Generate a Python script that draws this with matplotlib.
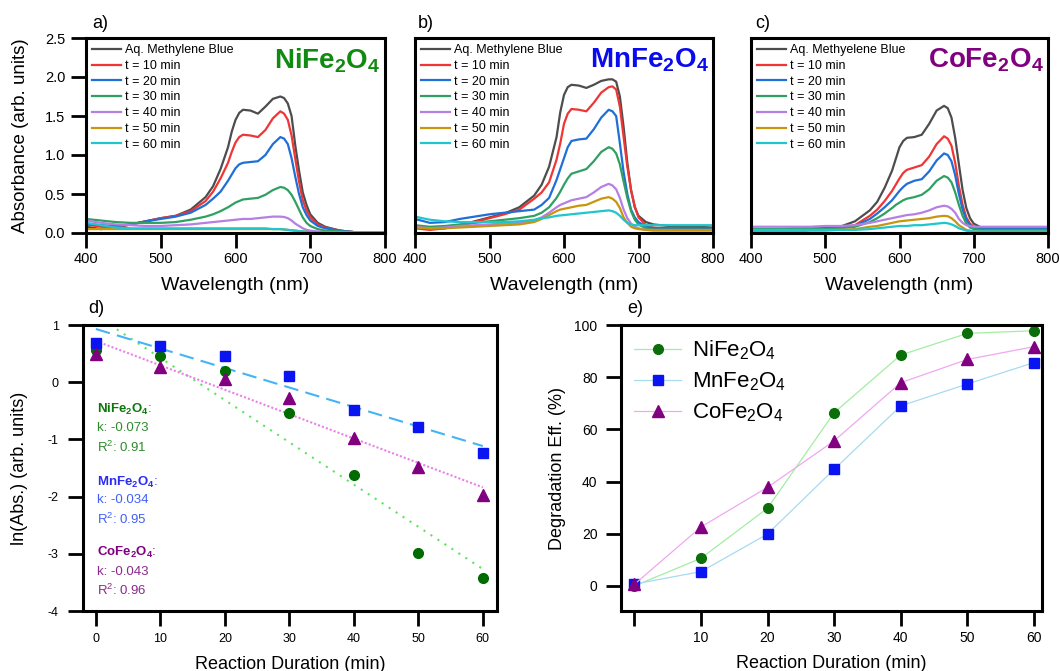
import matplotlib
matplotlib.use('Agg')
import numpy as np
import matplotlib.pyplot as plt

plt.rcParams['font.family'] = ['Liberation Sans', 'DejaVu Sans']
plt.rcParams['mathtext.fontset'] = 'custom'
plt.rcParams['mathtext.rm'] = 'Liberation Sans'
plt.rcParams['mathtext.bf'] = 'Liberation Sans:bold'
plt.rcParams['axes.unicode_minus'] = False

# ---------------- spectra ----------------
wl = [400, 420, 440, 460, 480, 500, 520, 540, 560, 570, 580, 590, 595, 600, 605, 610, 620,
      630, 640, 650, 660, 665, 670, 675, 680, 685, 690, 695, 700, 710, 720, 740, 760, 780, 800]

ni_mb  = [0.08, 0.05, 0.07, 0.11, 0.15, 0.19, 0.22, 0.30, 0.46, 0.60, 0.82, 1.10, 1.30, 1.45, 1.54, 1.58, 1.57,
          1.53, 1.62, 1.72, 1.75, 1.73, 1.66, 1.50, 1.12, 0.80, 0.52, 0.36, 0.24, 0.13, 0.08, 0.03, 0.01, 0.01, 0.01]
ni_t10 = [0.11, 0.08, 0.08, 0.11, 0.15, 0.19, 0.22, 0.28, 0.41, 0.53, 0.70, 0.90, 1.04, 1.16, 1.23, 1.26, 1.25,
          1.23, 1.32, 1.47, 1.56, 1.53, 1.45, 1.25, 0.95, 0.66, 0.42, 0.29, 0.20, 0.11, 0.07, 0.03, 0.01, 0.01, 0.01]
ni_t20 = [0.12, 0.10, 0.09, 0.11, 0.15, 0.18, 0.21, 0.26, 0.36, 0.44, 0.53, 0.67, 0.75, 0.83, 0.88, 0.90, 0.91,
          0.92, 1.00, 1.14, 1.23, 1.21, 1.14, 0.96, 0.72, 0.50, 0.33, 0.23, 0.16, 0.09, 0.06, 0.03, 0.01, 0.01, 0.01]
ni_t30 = [0.18, 0.16, 0.14, 0.13, 0.13, 0.13, 0.14, 0.17, 0.21, 0.24, 0.28, 0.33, 0.36, 0.39, 0.41, 0.43, 0.44,
          0.45, 0.49, 0.55, 0.59, 0.58, 0.55, 0.49, 0.40, 0.30, 0.20, 0.13, 0.09, 0.05, 0.03, 0.02, 0.01, 0.01, 0.01]
ni_t40 = [0.16, 0.13, 0.11, 0.10, 0.09, 0.09, 0.10, 0.11, 0.13, 0.14, 0.15, 0.16, 0.165, 0.17, 0.175, 0.18, 0.18,
          0.19, 0.20, 0.21, 0.21, 0.205, 0.19, 0.16, 0.12, 0.09, 0.06, 0.04, 0.03, 0.02, 0.01, 0.01, 0.01, 0.01, 0.01]
ni_t50 = [0.05, 0.05, 0.05, 0.05, 0.05, 0.05, 0.05, 0.05, 0.05, 0.05, 0.05, 0.05, 0.05, 0.05, 0.05, 0.05, 0.05,
          0.05, 0.05, 0.05, 0.05, 0.045, 0.04, 0.035, 0.03, 0.025, 0.02, 0.015, 0.01, 0.01, 0.01, 0.01, 0.01, 0.01, 0.01]
ni_t60 = [0.13, 0.10, 0.07, 0.06, 0.06, 0.06, 0.06, 0.06, 0.06, 0.06, 0.06, 0.06, 0.06, 0.06, 0.06, 0.06, 0.06,
          0.06, 0.06, 0.05, 0.05, 0.045, 0.04, 0.035, 0.03, 0.025, 0.02, 0.015, 0.01, 0.01, 0.01, 0.01, 0.01, 0.01, 0.01]

mn_mb  = [0.08, 0.05, 0.06, 0.10, 0.15, 0.20, 0.25, 0.33, 0.48, 0.62, 0.85, 1.23, 1.55, 1.77, 1.87, 1.90, 1.89,
          1.86, 1.90, 1.95, 1.97, 1.97, 1.94, 1.75, 1.36, 0.90, 0.55, 0.33, 0.22, 0.14, 0.11, 0.09, 0.08, 0.08, 0.07]
mn_t10 = [0.06, 0.04, 0.06, 0.09, 0.14, 0.19, 0.24, 0.30, 0.44, 0.52, 0.65, 0.94, 1.15, 1.40, 1.53, 1.59, 1.58,
          1.56, 1.67, 1.80, 1.87, 1.88, 1.84, 1.62, 1.23, 0.85, 0.55, 0.34, 0.20, 0.10, 0.07, 0.06, 0.05, 0.05, 0.05]
mn_t20 = [0.18, 0.13, 0.14, 0.18, 0.21, 0.24, 0.26, 0.28, 0.30, 0.36, 0.45, 0.68, 0.82, 0.96, 1.10, 1.18, 1.20,
          1.21, 1.33, 1.48, 1.58, 1.56, 1.50, 1.15, 0.78, 0.50, 0.30, 0.20, 0.14, 0.08, 0.06, 0.06, 0.06, 0.06, 0.06]
mn_t30 = [0.10, 0.08, 0.09, 0.11, 0.13, 0.15, 0.17, 0.19, 0.22, 0.26, 0.33, 0.45, 0.53, 0.62, 0.70, 0.76, 0.79,
          0.82, 0.92, 1.04, 1.10, 1.08, 1.02, 0.88, 0.66, 0.45, 0.28, 0.17, 0.11, 0.06, 0.04, 0.04, 0.04, 0.04, 0.04]
mn_t40 = [0.08, 0.06, 0.07, 0.09, 0.10, 0.11, 0.12, 0.13, 0.16, 0.20, 0.26, 0.33, 0.36, 0.38, 0.40, 0.42, 0.44,
          0.46, 0.52, 0.59, 0.63, 0.61, 0.56, 0.45, 0.30, 0.19, 0.12, 0.08, 0.06, 0.04, 0.03, 0.03, 0.03, 0.03, 0.03]
mn_t50 = [0.07, 0.06, 0.06, 0.07, 0.08, 0.09, 0.10, 0.11, 0.14, 0.18, 0.23, 0.28, 0.30, 0.31, 0.32, 0.33, 0.35,
          0.36, 0.40, 0.44, 0.46, 0.44, 0.40, 0.32, 0.20, 0.13, 0.08, 0.06, 0.05, 0.04, 0.04, 0.04, 0.04, 0.04, 0.04]
mn_t60 = [0.21, 0.17, 0.15, 0.14, 0.14, 0.14, 0.14, 0.15, 0.17, 0.19, 0.20, 0.22, 0.225, 0.23, 0.235, 0.24, 0.25,
          0.26, 0.27, 0.28, 0.29, 0.28, 0.26, 0.22, 0.17, 0.13, 0.11, 0.10, 0.10, 0.10, 0.10, 0.10, 0.10, 0.10, 0.10]

co_mb  = [0.03, 0.03, 0.04, 0.05, 0.05, 0.06, 0.08, 0.15, 0.29, 0.40, 0.58, 0.80, 0.95, 1.10, 1.18, 1.22, 1.23,
          1.26, 1.40, 1.57, 1.63, 1.60, 1.48, 1.22, 0.88, 0.55, 0.32, 0.19, 0.12, 0.07, 0.06, 0.06, 0.06, 0.06, 0.06]
co_t10 = [0.05, 0.05, 0.05, 0.06, 0.06, 0.06, 0.07, 0.10, 0.22, 0.30, 0.41, 0.54, 0.62, 0.70, 0.77, 0.81, 0.84,
          0.87, 0.98, 1.14, 1.24, 1.21, 1.12, 0.90, 0.60, 0.36, 0.20, 0.12, 0.08, 0.06, 0.05, 0.05, 0.05, 0.05, 0.05]
co_t20 = [0.04, 0.04, 0.05, 0.05, 0.05, 0.06, 0.07, 0.09, 0.18, 0.25, 0.33, 0.42, 0.48, 0.54, 0.59, 0.63, 0.67,
          0.69, 0.79, 0.93, 1.02, 1.00, 0.92, 0.74, 0.50, 0.30, 0.17, 0.10, 0.07, 0.05, 0.05, 0.05, 0.05, 0.05, 0.05]
co_t30 = [0.05, 0.05, 0.05, 0.05, 0.05, 0.05, 0.06, 0.08, 0.14, 0.19, 0.25, 0.32, 0.36, 0.39, 0.42, 0.44, 0.46,
          0.49, 0.56, 0.67, 0.73, 0.71, 0.65, 0.52, 0.36, 0.22, 0.12, 0.07, 0.05, 0.04, 0.04, 0.04, 0.04, 0.04, 0.04]
co_t40 = [0.08, 0.08, 0.08, 0.08, 0.08, 0.09, 0.09, 0.10, 0.13, 0.15, 0.17, 0.19, 0.20, 0.21, 0.22, 0.23, 0.24,
          0.26, 0.29, 0.33, 0.35, 0.34, 0.31, 0.26, 0.18, 0.13, 0.10, 0.09, 0.08, 0.08, 0.08, 0.08, 0.08, 0.08, 0.08]
co_t50 = [0.02, 0.02, 0.02, 0.02, 0.03, 0.03, 0.04, 0.05, 0.08, 0.09, 0.11, 0.13, 0.14, 0.15, 0.155, 0.16, 0.17,
          0.18, 0.19, 0.21, 0.22, 0.215, 0.19, 0.15, 0.10, 0.07, 0.04, 0.03, 0.02, 0.02, 0.02, 0.02, 0.02, 0.02, 0.02]
co_t60 = [0.04, 0.04, 0.04, 0.04, 0.04, 0.04, 0.04, 0.04, 0.05, 0.06, 0.07, 0.08, 0.085, 0.09, 0.09, 0.09, 0.10,
          0.10, 0.11, 0.12, 0.13, 0.125, 0.11, 0.09, 0.06, 0.045, 0.03, 0.025, 0.02, 0.02, 0.02, 0.02, 0.02, 0.02, 0.02]

spec_labels = ['Aq. Methylene Blue', 't = 10 min', 't = 20 min', 't = 30 min',
               't = 40 min', 't = 50 min', 't = 60 min']
spec_labels_c = ['Aq. Methyelene Blue'] + spec_labels[1:]
spec_colors = ['#4d4d4d', '#f03535', '#1f6fd6', '#30a062', '#b57fe3', '#c8960e', '#1fc6cc']

# ---------------- kinetics ----------------
t = [0, 10, 20, 30, 40, 50, 60]
ln_ni = [0.56, 0.45, 0.20, -0.53, -1.62, -2.99, -3.43]
ln_mn = [0.68, 0.63, 0.46, 0.10, -0.49, -0.79, -1.24]
ln_co = [0.50, 0.26, 0.05, -0.28, -0.98, -1.49, -1.97]

deg_ni = [0.0, 10.6, 29.8, 66.4, 88.5, 96.8, 97.8]
deg_mn = [0.7, 5.5, 19.9, 44.7, 69.0, 77.4, 85.6]
deg_co = [0.6, 22.6, 37.8, 55.6, 77.9, 86.8, 91.7]

W, H = 1060, 671
fig = plt.figure(figsize=(W / 100, H / 100), dpi=100)


def box(l, t_, r, b):
    return [l / W, 1 - b / H, (r - l) / W, (b - t_) / H]


def style(ax, lab=10.5, ypad=4.5, xpad=3):
    for s in ax.spines.values():
        s.set_linewidth(2.2)
    ax.tick_params(direction='out', length=10.5, width=2, labelsize=lab)
    ax.tick_params(axis='y', pad=ypad)
    ax.tick_params(axis='x', pad=xpad)


ax_a = fig.add_axes(box(86, 38, 385, 233))
ax_b = fig.add_axes(box(415, 38, 713, 233))
ax_c = fig.add_axes(box(751, 38, 1048, 233))

sets = [
    (ax_a, [ni_mb, ni_t10, ni_t20, ni_t30, ni_t40, ni_t50, ni_t60], spec_labels,
     r'$\mathbf{NiFe_2O_4}$', '#118a11'),
    (ax_b, [mn_mb, mn_t10, mn_t20, mn_t30, mn_t40, mn_t50, mn_t60], spec_labels,
     r'$\mathbf{MnFe_2O_4}$', '#0a0aee'),
    (ax_c, [co_mb, co_t10, co_t20, co_t30, co_t40, co_t50, co_t60], spec_labels_c,
     r'$\mathbf{CoFe_2O_4}$', '#800080'),
]
for i, (ax, curves, labs, name, ncol) in enumerate(sets):
    for y, lab, c in zip(curves, labs, spec_colors):
        ax.plot(wl, y, color=c, lw=1.6, label=lab)
    ax.set_xlim(400, 800)
    ax.set_ylim(0, 2.5)
    ax.set_xticks([400, 500, 600, 700, 800])
    style(ax)
    ax.set_xlabel('Wavelength (nm)', fontsize=14, labelpad=8)
    if i == 0:
        ax.set_yticks([0, 0.5, 1.0, 1.5, 2.0, 2.5])
        ax.set_yticklabels(['0.0', '0.5', '1.0', '1.5', '2.0', '2.5'])
        ax.set_ylabel('Absorbance (arb. units)', fontsize=13.5, labelpad=11)
    else:
        ax.set_yticks([])
    ax.legend(loc='upper left', bbox_to_anchor=(0.0, 1.0), frameon=False, fontsize=9,
              handlelength=2.3, handletextpad=0.3, labelspacing=0.3, borderpad=0.3,
              borderaxespad=0.2)
    ax.text(0.985, 0.955, name, transform=ax.transAxes, ha='right', va='top',
            fontsize=20, color=ncol)

# ---------------- panel d ----------------
ax_d = fig.add_axes(box(83, 325, 497, 611))
fit_style = [(ln_ni, '#006b00', 'o', 7, '#5fe35f', (0, (1, 3))),
             (ln_mn, '#0a14f0', 's', 6.5, '#45b4f5', (0, (7, 3.5))),
             (ln_co, '#800080', '^', 8, '#ea80ea', (0, (1, 1)))]
tt = np.array(t)
for y, mc, mk, ms, lc, ls in fit_style:
    k, b = np.polyfit(tt, y, 1)
    ax_d.plot(tt, k * tt + b, color=lc, lw=1.5, ls=ls)
for y, mc, mk, ms, lc, ls in fit_style:
    ax_d.plot(t, y, ls='none', marker=mk, ms=ms, color=mc)
ax_d.set_xlim(-2, 62.2)
ax_d.set_ylim(-4, 1)
ax_d.set_xticks(t)
ax_d.set_yticks([-4, -3, -2, -1, 0, 1])
style(ax_d, lab=9, ypad=7, xpad=5)
ax_d.set_xlabel('Reaction Duration (min)', fontsize=13, labelpad=8)
ax_d.set_ylabel('ln(Abs.) (arb. units)', fontsize=13, labelpad=14)

notes = [(0.706, r'$\mathbf{NiFe_2O_4}$:', '#0b7a0b'), (0.640, 'k: -0.073', '#2d8b2d'),
         (0.573, r'R$^2$: 0.91', '#2d8b2d'),
         (0.451, r'$\mathbf{MnFe_2O_4}$:', '#2b2bf5'), (0.388, 'k: -0.034', '#4060f5'),
         (0.322, r'R$^2$: 0.95', '#4060f5'),
         (0.203, r'$\mathbf{CoFe_2O_4}$:', '#800080'), (0.136, 'k: -0.043', '#8a2a8a'),
         (0.073, r'R$^2$: 0.96', '#8a2a8a')]
for yy, s, c in notes:
    ax_d.text(0.034, yy, s, transform=ax_d.transAxes, fontsize=9.5, color=c,
              ha='left', va='center')

# ---------------- panel e ----------------
ax_e = fig.add_axes(box(621, 325, 1042, 611))
ax_e.plot(t, deg_ni, color='#a3eda3', lw=0.9, marker='o', ms=7, mfc='#0b6e0b', mec='#0b6e0b',
          label=r'NiFe$_2$O$_4$')
ax_e.plot(t, deg_mn, color='#a8daf2', lw=0.9, marker='s', ms=6.5, mfc='#0a14f0', mec='#0a14f0',
          label=r'MnFe$_2$O$_4$')
ax_e.plot(t, deg_co, color='#f0a8f0', lw=0.9, marker='^', ms=8, mfc='#800080', mec='#800080',
          label=r'CoFe$_2$O$_4$')
ax_e.set_xlim(-2, 61.2)
ax_e.set_ylim(-9.6, 100)
ax_e.set_xticks(t)
ax_e.set_xticklabels([''] + [str(v) for v in t[1:]])
ax_e.set_yticks([0, 20, 40, 60, 80, 100])
style(ax_e, lab=10, ypad=6.5, xpad=4)
ax_e.set_xlabel('Reaction Duration (min)', fontsize=13, labelpad=7)
ax_e.set_ylabel('Degradation Eff. (%)', fontsize=13, labelpad=6)
ax_e.legend(loc='upper left', frameon=False, fontsize=16, handlelength=2.1,
            handletextpad=0.5, labelspacing=0.38, borderpad=0.2, borderaxespad=0.4)

# panel letters
for x, y, s in [(92, 24, 'a)'), (418, 24, 'b)'), (755, 24, 'c)'), (88, 309, 'd)'), (627, 309, 'e)')]:
    fig.text(x / W, 1 - y / H, s, fontsize=13, ha='left', va='center')

fig.savefig('out.png', dpi=100)
